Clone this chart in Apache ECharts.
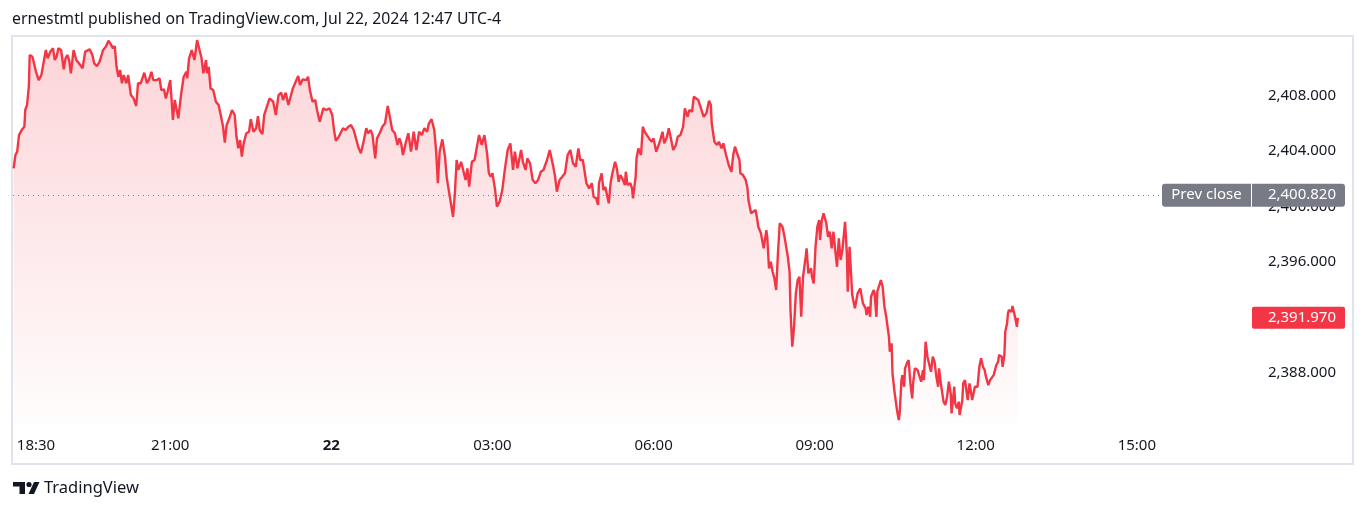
<!DOCTYPE html>
<html><head><meta charset="utf-8">
<script src="https://cdn.jsdelivr.net/npm/echarts@6/dist/echarts.min.js"></script>
<style>html,body{margin:0;padding:0;background:#fff}#c{width:1365px;height:512px}</style>
</head><body><div id="c"></div>
<script>
// minutes elapsed since 18:00 (Jul 21, UTC-4)
const minutes = [
5,7,9,11,14,17,18,20,22,23,26,28,30,33,36,38,41,43,46,49,51,53,55,58,61,63,65,67,69,72,75,78,82,85,87,90,93,95,98,101,105,108,111,113,116,118,120,122,124,126,128,131,133,136,139,142,144,147,151,154,156,159,161,165,168,170,173,175,177,
180,183,185,189,192,195,198,199,201,204,207,210,212,215,217,220,221,223,225,228,231,234,236,239,241,243,246,249,252,254,256,258,260,262,265,268,270,273,276,278,280,283,285,288,291,295,298,301,304,306,309,312,315,317,321,323,325,328,332,334,336,339,342,344,347,349,351,354,358,361,363,365,368,
370,373,376,379,382,385,387,390,393,396,399,401,404,406,409,411,414,417,420,423,426,428,431,434,436,438,440,443,446,449,452,455,458,461,464,467,469,472,475,477,479,481,484,487,489,491,493,496,498,500,502,505,507,510,512,514,517,520,522,525,528,531,534,536,538,540,543,545,548,551,554,557,
560,563,565,568,572,574,577,579,582,585,588,591,594,597,599,601,604,606,608,610,612,615,618,621,624,627,630,633,636,638,641,643,645,648,651,653,656,658,659,662,664,666,668,670,672,674,677,679,681,683,686,688,689,691,694,696,697,700,701,703,706,708,710,712,715,718,720,723,725,727,730,732,735,737,739,742,745,747,
750,753,755,758,760,763,765,767,770,773,776,779,782,784,785,788,791,793,796,798,801,804,807,809,811,814,816,817,820,823,825,826,829,831,834,836,837,840,842,843,846,847,849,851,853,855,857,859,861,864,866,868,870,872,873,875,877,879,881,883,885,887,890,891,893,896,897,899,901,903,905,906,908,910,913,915,917,919,921,923,925,927,929,931,934,936,937,
939,942,944,945,948,951,953,954,957,958,960,962,963,966,967,969,970,972,974,976,978,980,983,984,986,987,989,990,992,994,995,997,998,1000,1001,1003,1005,1007,1009,1010,1012,1015,1017,1019,1021,1022,1024,1026,1028,1030,1032,1034,1036,1038,1039,1041,1044,1046,1048,1050,1052,1053,1056,1057,1059,1061,1062,1065,1066,1068,1070,1071,1073,1074,1076,1078,1079,1082,1084,1086,1088,1090,1091,1093,1094,1096,1098,1100,1103,1105,1106,1109,1110,1112,1113,1115,1116,1117,1120,1121,1123,1125,1126,1127
];
const prices = [
2402.76,2403.72,2403.96,2405.16,2405.52,2405.76,2406.97,2407.33,2408.65,2410.94,2410.82,2410.70,2409.73,2409.13,2409.49,2410.22,2411.30,2410.70,2411.18,2411.42,2410.58,2410.82,2411.42,2411.30,2409.91,2410.70,2410.94,2410.58,2409.62,2411.30,2410.58,2410.34,2409.98,2411.18,2411.06,2411.35,2410.94,2410.34,2410.14,2410.45,2411.30,2411.54,2411.97,2411.78,2411.42,2411.59,2410.09,2409.37,2409.86,2408.90,2409.49,2408.90,2409.49,2408.05,2407.81,2407.26,2408.90,2408.90,2409.66,2408.90,2409.13,2409.73,2409.13,2409.13,2409.26,2408.41,2408.46,2407.81,2408.29,
2409.13,2406.25,2407.69,2406.37,2408.05,2409.37,2409.73,2409.26,2410.70,2411.30,2410.58,2412.02,2411.90,2410.70,2409.62,2410.58,2409.62,2410.09,2408.53,2408.41,2407.57,2407.33,2406.73,2405.76,2404.61,2405.88,2406.37,2406.97,2406.61,2405.04,2404.20,2404.80,2403.60,2404.56,2405.29,2405.40,2406.30,2405.40,2405.65,2406.53,2405.52,2405.23,2406.61,2407.21,2407.81,2407.57,2406.61,2408.05,2408.22,2407.69,2408.22,2407.33,2408.05,2408.53,2409.13,2409.42,2408.77,2409.18,2409.13,2409.37,2408.41,2407.57,2407.69,2406.97,2406.12,2406.61,2407.09,2406.97,2407.09,2406.61,2405.52,2404.75,2405.00,
2405.04,2405.65,2405.52,2405.76,2405.88,2405.52,2405.52,2404.32,2403.84,2404.68,2405.65,2405.29,2405.52,2405.16,2403.48,2404.92,2405.29,2405.76,2406.01,2407.26,2406.25,2405.52,2405.29,2404.44,2404.92,2404.56,2403.72,2404.56,2405.29,2403.96,2405.40,2404.08,2405.40,2405.16,2405.65,2405.40,2406.01,2406.30,2405.52,2404.08,2401.68,2403.96,2404.85,2403.60,2402.04,2401.91,2400.47,2399.26,2400.95,2403.36,2402.64,2403.23,2403.23,2401.91,2402.76,2401.43,2403.23,2403.36,2404.08,2405.16,2404.44,2405.16,2403.84,2402.40,2402.15,2402.40,2401.19,2399.99,2400.35,2401.19,2402.76,2404.08,
2404.56,2402.64,2403.96,2402.76,2404.08,2403.23,2402.64,2403.48,2403.12,2401.91,2401.68,2401.91,2402.51,2402.64,2403.00,2403.36,2404.08,2403.96,2402.87,2402.15,2401.07,2401.91,2402.15,2402.40,2403.72,2404.08,2403.12,2402.87,2404.20,2403.36,2403.36,2402.51,2401.68,2401.31,2401.68,2400.71,2400.59,2400.11,2401.68,2402.40,2401.19,2401.43,2401.31,2400.23,2401.68,2402.40,2403.23,2402.76,2401.79,2402.27,2401.91,2401.55,2402.51,2401.55,2401.68,2401.31,2400.59,2402.15,2403.48,2404.20,2403.72,2405.76,2405.40,2405.29,2404.92,2404.68,2404.92,2403.96,2404.32,2404.68,2405.40,2404.56,2405.04,2405.65,2405.04,2404.08,2404.44,2405.04,
2405.16,2405.76,2407.09,2406.48,2406.97,2406.84,2407.93,2407.81,2407.69,2407.09,2406.48,2406.73,2407.64,2407.33,2406.01,2404.68,2404.44,2404.68,2404.20,2404.56,2403.72,2403.00,2402.51,2403.72,2404.32,2403.72,2403.36,2402.40,2402.27,2401.91,2401.31,2400.47,2399.51,2399.39,2399.75,2399.03,2398.54,2398.07,2397.34,2396.98,2398.30,2397.82,2395.54,2396.01,2395.29,2394.82,2393.97,2396.62,2398.79,2398.54,2397.94,2398.07,2396.38,2395.29,2392.53,2389.88,2391.32,2393.73,2394.69,2394.93,2392.04,2394.93,2396.38,2396.98,2395.18,2395.54,2394.93,2394.45,2397.10,2398.54,2399.03,2397.58,2399.03,2399.51,2398.79,2397.82,2398.18,2396.98,2398.18,2396.86,2395.65,2397.70,2396.14,2396.86,2398.90,2396.62,2393.85,
2397.10,2393.61,2393.49,2392.65,2393.73,2394.09,2394.21,2393.01,2392.65,2392.17,2392.77,2392.04,2393.49,2393.97,2393.73,2392.04,2393.85,2393.73,2394.69,2394.21,2392.77,2392.04,2390.60,2389.52,2390.12,2387.96,2386.75,2386.63,2385.31,2384.59,2385.07,2387.47,2387.83,2386.99,2388.32,2388.68,2388.92,2387.23,2386.15,2387.23,2388.32,2388.19,2388.32,2387.35,2388.19,2387.47,2390.24,2389.16,2389.04,2388.07,2389.16,2388.79,2387.71,2386.99,2388.32,2387.23,2385.91,2385.67,2386.27,2387.35,2386.51,2385.07,2386.99,2385.79,2385.43,2385.91,2384.95,2386.03,2387.23,2387.47,2386.51,2386.03,2387.23,2386.87,2386.03,2386.03,2386.99,2386.99,2388.43,2389.04,2388.43,2388.19,2387.83,2387.96,2387.11,2387.47,2387.60,2387.83,2388.56,2388.79,2389.28,2389.16,2388.43,2389.28,2390.96,2391.57,2392.29,2392.53,2392.40,2392.82,2392.29,2391.68,2391.32,2391.97
];
const xTickMinutes = [30, 180, 360, 540, 720, 900, 1080, 1260];
const xTickLabels = ['18:30', '21:00', '22', '03:00', '06:00', '09:00', '12:00', '15:00'];
const priceTicks = [2388, 2392, 2396, 2400, 2404, 2408];
const prevClose = 2400.82;
const headerText = 'ernestmtl published on TradingView.com, Jul 22, 2024 12:47 UTC-4';
const brandText = 'TradingView';

const FONT = '"Noto Sans", sans-serif';
const TXT = '#131722';
const fmt = v => Number(v).toLocaleString('en-US', {minimumFractionDigits: 3, maximumFractionDigits: 3});
const data = minutes.map((m, i) => [m, prices[i]]);
const last = prices[prices.length - 1];

const chart = echarts.init(document.getElementById('c'), null, {renderer: 'canvas'});
chart.setOption({
  animation: false,
  backgroundColor: '#ffffff',
  title: {
    text: headerText, left: 12, top: 11, padding: 0,
    textStyle: {fontFamily: FONT, fontSize: 15.8, fontWeight: 'normal', color: TXT}
  },
  grid: {left: 13, right: 203, top: 37, bottom: 88},
  xAxis: {
    type: 'value', min: 4.3, max: 1288.1,
    axisLine: {show: false}, axisTick: {show: false}, splitLine: {show: false},
    axisLabel: {
      customValues: xTickMinutes, margin: 14, fontFamily: FONT, fontSize: 15, color: TXT,
      formatter: v => {
        const t = xTickLabels[xTickMinutes.indexOf(v)] || '';
        return t.indexOf(':') < 0 ? '{b|' + t + '}' : t;
      },
      rich: {b: {fontFamily: FONT, fontSize: 15, fontWeight: 'bold', color: TXT}}
    }
  },
  yAxis: {
    type: 'value', position: 'right', min: 2384.30, max: 2412.24, scale: true,
    axisLine: {show: false}, axisTick: {show: false}, splitLine: {show: false},
    axisLabel: {
      customValues: priceTicks, align: 'right', margin: 174,
      fontFamily: FONT, fontSize: 15, color: TXT, formatter: v => fmt(v)
    }
  },
  series: [{
    type: 'line', data: data, showSymbol: false, symbol: 'none', clip: false,
    lineStyle: {color: '#f23645', width: 2.4},
    areaStyle: {
      color: new echarts.graphic.LinearGradient(0, 0, 0, 1, [
        {offset: 0, color: 'rgba(242,54,69,0.30)'},
        {offset: 1, color: 'rgba(242,54,69,0.02)'}
      ])
    },
    markLine: {
      silent: true, symbol: 'none', animation: false,
      data: [
        {
          yAxis: prevClose,
          lineStyle: {type: [1, 4], color: '#787b86', width: 1},
          label: {
            show: true, position: 'end', distance: 0,
            formatter: '{a|Prev close}{s| }{b|' + fmt(prevClose) + '}',
            rich: {
              a: {fontFamily: FONT, fontSize: 15, color: '#ffffff', backgroundColor: '#787b86', width: 89, height: 23, lineHeight: 23, align: 'center', borderRadius: [3, 0, 0, 3]},
              s: {backgroundColor: '#ffffff', width: 1, height: 23, lineHeight: 23, fontSize: 1},
              b: {fontFamily: FONT, fontSize: 15, color: '#ffffff', backgroundColor: '#787b86', width: 84, height: 23, lineHeight: 23, align: 'right', padding: [0, 9, 0, 0], borderRadius: [0, 3, 3, 0]}
            }
          }
        },
        {
          yAxis: last,
          lineStyle: {color: 'rgba(0,0,0,0)', width: 1, type: 'solid'},
          label: {
            show: true, position: 'end', distance: 90,
            formatter: '{c|' + fmt(last) + '}',
            rich: {
              c: {fontFamily: FONT, fontSize: 15, color: '#ffffff', backgroundColor: '#f23645', width: 84, height: 22, lineHeight: 22, align: 'right', padding: [0, 9, 0, 0], borderRadius: 2}
            }
          }
        }
      ]
    }
  }],
  graphic: [
    {type: 'rect', silent: true, z: 0, shape: {x: 12, y: 36, width: 1341, height: 428}, style: {fill: 'none', stroke: '#e0e3eb', lineWidth: 2}},
    {type: 'polygon', silent: true, shape: {points: [[13, 482], [25, 482], [25, 494], [19.5, 494], [19.5, 486.5], [13, 486.5]]}, style: {fill: TXT}},
    {type: 'circle', silent: true, shape: {cx: 29, cy: 484.5, r: 2.6}, style: {fill: TXT}},
    {type: 'polygon', silent: true, shape: {points: [[28.5, 494], [34, 482], [39.5, 482], [34, 494]]}, style: {fill: TXT}},
    {type: 'text', silent: true, left: 44, top: 480, style: {text: brandText, fontFamily: FONT, fontSize: 16.5, fill: TXT}}
  ]
});
</script>
</body></html>
